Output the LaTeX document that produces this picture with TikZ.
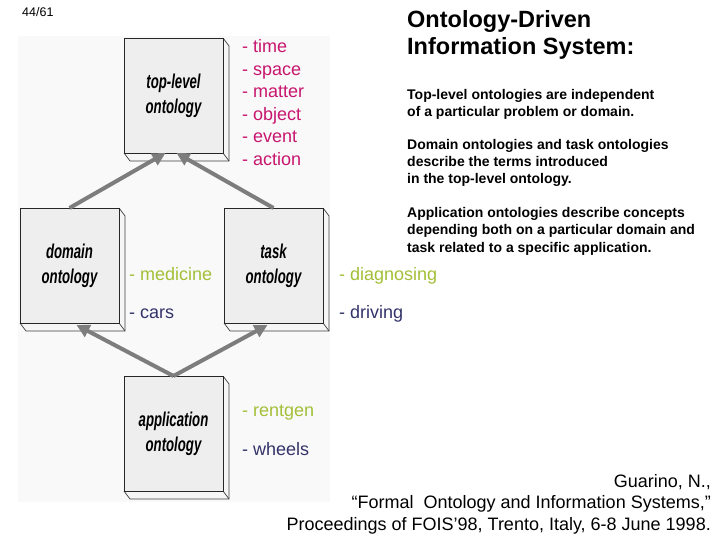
\documentclass[tikz,border=0pt]{standalone}
\usepackage{fontspec}
\setmainfont{Liberation Sans}
\newfontfamily\boxfont[FakeStretch=0.66]{Liberation Sans}
\usetikzlibrary{arrows.meta,backgrounds}
\definecolor{mag}{HTML}{C8166E}
\definecolor{grn}{HTML}{A2C037}
\definecolor{nav}{HTML}{33336B}
\definecolor{arrg}{HTML}{7D7D7D}
\definecolor{boxf}{HTML}{EEEEEE}
\definecolor{facef}{HTML}{F6F6F6}
\definecolor{bgf}{HTML}{F9F9F9}
\newcommand\boxfaces[1]{%
  \fill[facef] (#1.north east) -- ++(6,8) -- ++(0,115) -- ++(-99,0) -- (#1.south west) -- (#1.south east) -- cycle;
  \draw[facel] (#1.north east) -- ++(6,8) -- ++(0,115) -- ++(-99,0) -- (#1.south west);
  \draw[facel] (#1.south east) -- ++(6,8);}
\begin{document}
\begin{tikzpicture}[x=1pt,y=-1pt,
  obox/.style={draw=black!85, line width=0.9pt, fill=boxf, minimum width=99pt,
    minimum height=115pt, inner sep=0pt, outer sep=0pt, align=center,
    font=\boxfont\bfseries\itshape\fontsize{20}{25}\selectfont},
  facel/.style={draw=black!75, line width=0.7pt},
  arr/.style={draw=arrg, line width=4pt, -{Triangle[length=13pt,width=13pt,fill=arrg]}},
  lab/.style={anchor=base west, inner sep=0pt, font=\fontsize{18}{22}\selectfont},
  body/.style={anchor=base west, inner sep=0pt, font=\bfseries\fontsize{14}{17}\selectfont},
  cite/.style={anchor=base east, inner sep=0pt, font=\fontsize{18}{21}\selectfont},
]
\useasboundingbox (0,0) rectangle (720,540);

% boxes
\node[obox] (top) at (173.5,95.5) {top-level\\ontology};
\node[obox] (dom) at (69.5,265.5) {domain\\ontology};
\node[obox] (task) at (273.5,265.5) {task\\ontology};
\node[obox] (app) at (173.5,433.5) {application\\ontology};

\begin{pgfonlayer}{background}
  \fill[white] (0,0) rectangle (720,540);
  \fill[bgf] (18,36) rectangle (330,502);
  \boxfaces{top}
  \boxfaces{dom}
  \boxfaces{task}
  \boxfaces{app}
\end{pgfonlayer}

% arrows
\draw[arr] (dom.north) -- ([xshift=-8pt]top.south);
\draw[arr] (task.north) -- ([xshift=3pt]top.south);
\draw[arr] (app.north) -- ([xshift=7pt,yshift=-2pt]dom.south);
\draw[arr] (app.north) -- ([xshift=-6pt,yshift=-2pt]task.south);

% page number
\node[anchor=base west, inner sep=0pt, font=\fontsize{12.5}{15}\selectfont] (pg) at (22,17) {44/61};

% top-level labels
\node[lab, text=mag] (l1) at (242,53) {- time};
\node[lab, text=mag] (l2) at (242,75.5) {- space};
\node[lab, text=mag] (l3) at (242,98) {- matter};
\node[lab, text=mag] (l4) at (242,120.5) {- object};
\node[lab, text=mag] (l5) at (242,143) {- event};
\node[lab, text=mag] (l6) at (242,165.5) {- action};

% domain / task labels
\node[lab, text=grn] (m1) at (129,280) {- medicine};
\node[lab, text=nav] (m2) at (129,318) {- cars};
\node[lab, text=grn] (t1) at (339,280) {- diagnosing};
\node[lab, text=nav] (t2) at (339,318) {- driving};

% application labels
\node[lab, text=grn] (a1) at (242,416) {- rentgen};
\node[lab, text=nav] (a2) at (242,455) {- wheels};

% title
\node[anchor=base west, inner sep=0pt, font=\bfseries\fontsize{23.5}{28}\selectfont] (ti1) at (407,28) {Ontology-Driven};
\node[anchor=base west, inner sep=0pt, font=\bfseries\fontsize{23.5}{28}\selectfont] (ti2) at (407,55) {Information System:};

% body
\node[body] (b1) at (407,100) {Top-level ontologies are independent};
\node[body] (b2) at (407,117) {of a particular problem or domain.};
\node[body] (b3) at (407,150) {Domain ontologies and task ontologies};
\node[body] (b4) at (407,167) {describe the terms introduced};
\node[body] (b5) at (407,184) {in the top-level ontology.};
\node[body] (b6) at (407,218) {Application ontologies describe concepts};
\node[body] (b7) at (407,235) {depending both on a particular domain and};
\node[body] (b8) at (407,252) {task related to a specific application.};

% citation
\node[cite] (c1) at (711,487) {Guarino, N.,};
\node[cite] (c2) at (711,508) {“Formal\ \ Ontology and Information Systems,”};
\node[cite] (c3) at (711,530) {Proceedings of FOIS’98, Trento, Italy, 6-8 June 1998.};
\end{tikzpicture}
\end{document}
